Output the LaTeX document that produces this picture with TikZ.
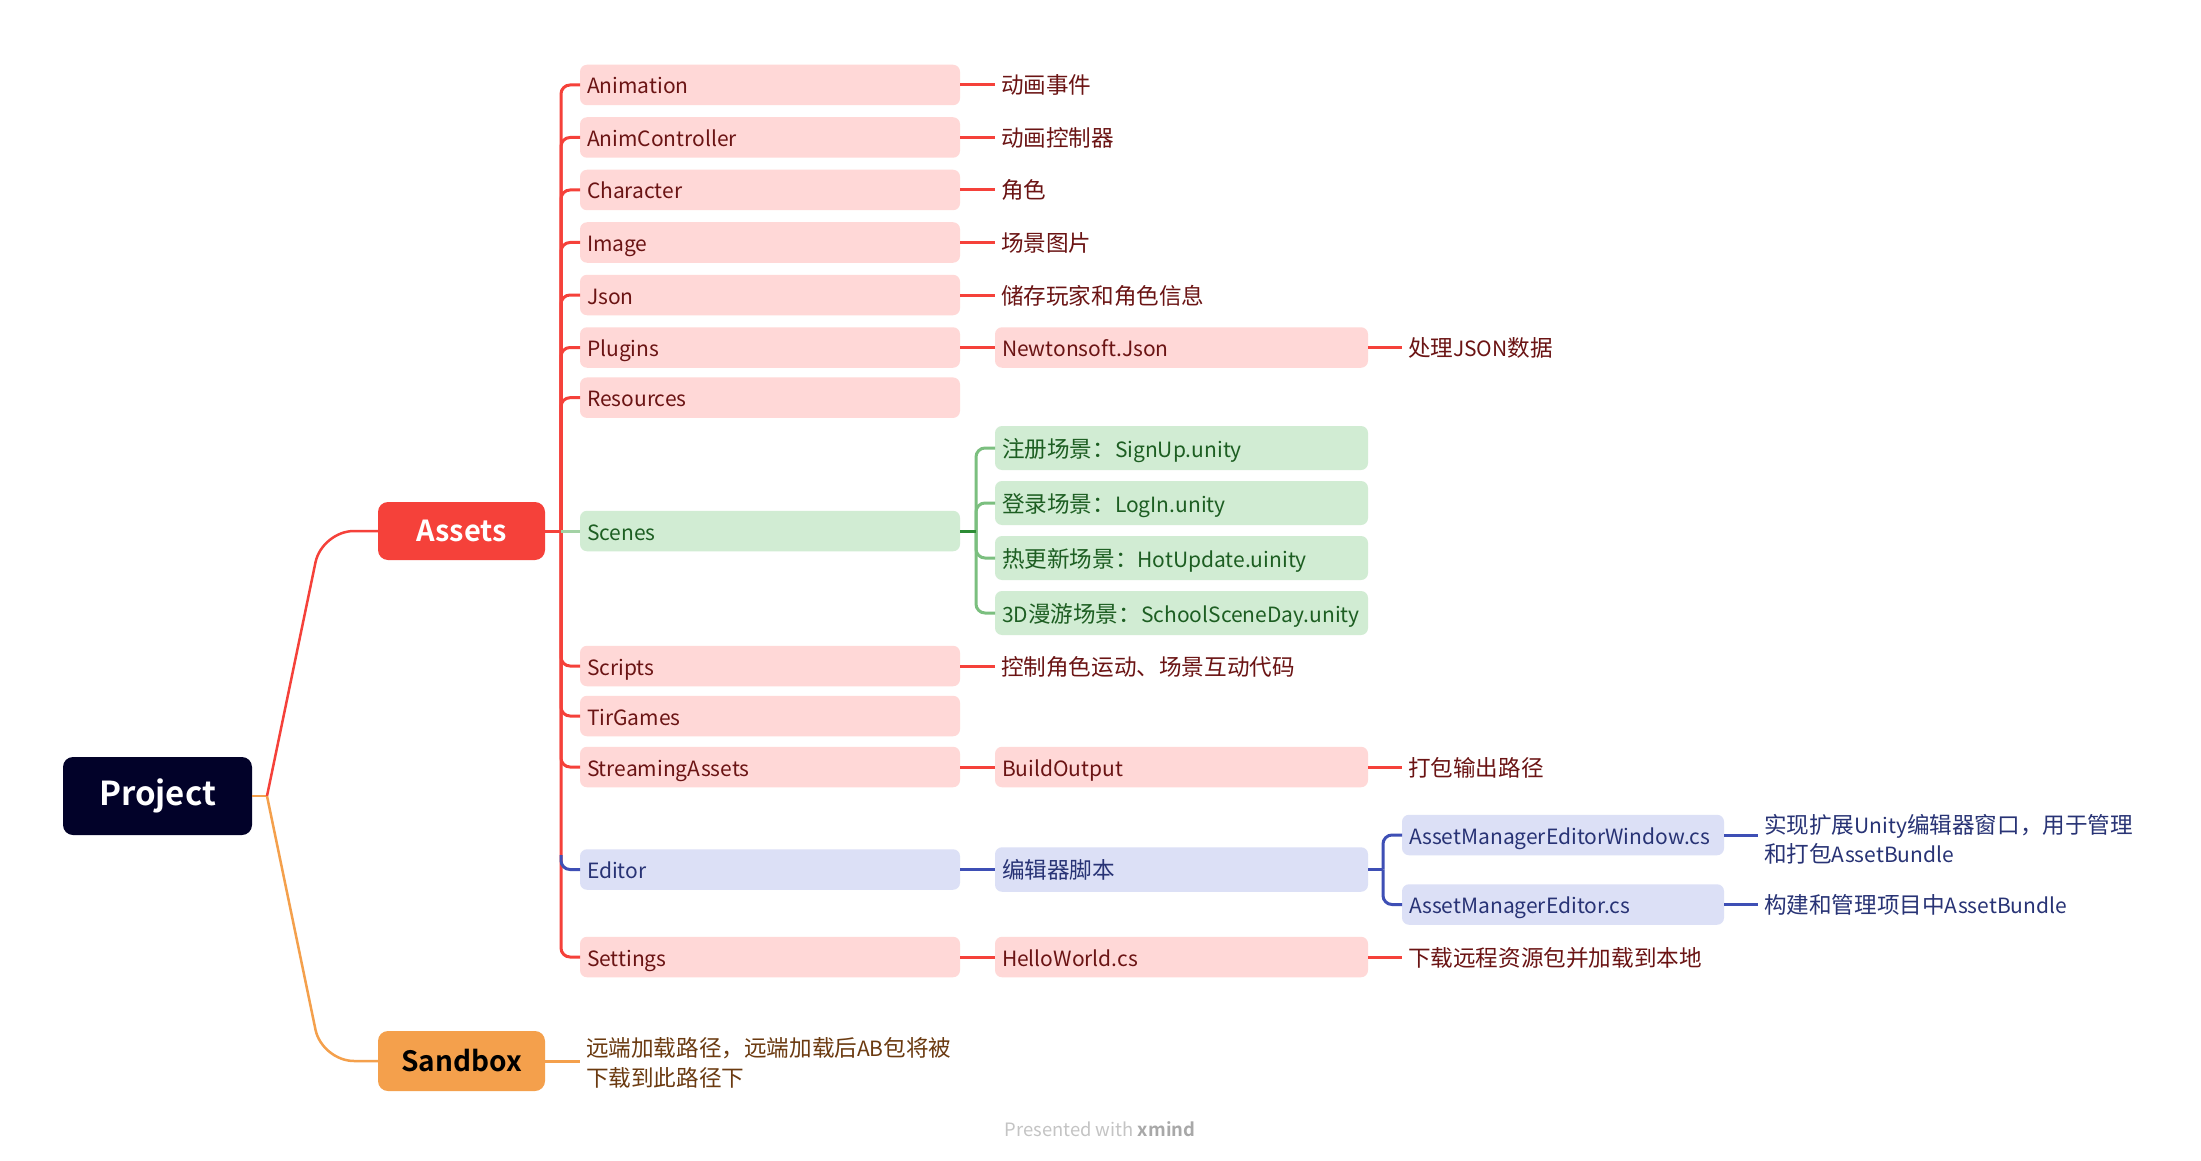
\documentclass[tikz,border=0pt]{standalone}
\usepackage{fontspec}
\setmainfont{Noto Sans CJK SC}[BoldFont={Noto Sans CJK SC Bold}]
\definecolor{redl}{HTML}{F5413A}
\definecolor{pinkf}{HTML}{FFD8D7}
\definecolor{pinkt}{HTML}{6B1414}
\definecolor{greenf}{HTML}{D1ECD3}
\definecolor{greent}{HTML}{1D5E22}
\definecolor{greend}{HTML}{2D8C35}
\definecolor{greenp}{HTML}{7BBF7F}
\definecolor{bluef}{HTML}{DCE0F6}
\definecolor{bluet}{HTML}{283375}
\definecolor{bluel}{HTML}{3E4FB5}
\definecolor{orangel}{HTML}{F4A04C}
\definecolor{oranget}{HTML}{6B3A10}
\definecolor{projf}{HTML}{020229}
\definecolor{footg}{HTML}{C4C4C4}
\definecolor{footd}{HTML}{A8A8A8}
\newcommand{\fs}{\fontsize{21}{29}\selectfont}
\newcommand{\fc}{\fontsize{22.6}{29}\selectfont}
\newcommand{\cj}[1]{{\fontsize{22.6}{29}\selectfont #1}}
\newcommand{\lt}[1]{{\fontsize{21}{29}\selectfont #1}}
\begin{document}
\begin{tikzpicture}[x=1pt,y=-1pt,
  every node/.style={inner sep=0pt, outer sep=0pt},
  boxbase/.style={rounded corners=7pt, anchor=west, minimum height=40.5pt, text height=19.5pt, text depth=1.5pt, inner xsep=7pt, inner ysep=0pt, align=left, font=\fs},
  pbox/.style={boxbase, fill=pinkf, text=pinkt},
  gbox/.style={boxbase, fill=greenf, text=greent},
  bbox/.style={boxbase, fill=bluef, text=bluet},
  colA/.style={text width=366pt},
  colB/.style={text width=359pt},
  colC/.style={text width=308pt},
  lab/.style={anchor=west, inner xsep=6pt, text height=19.5pt, text depth=1.5pt, font=\fc, align=left},
  twolab/.style={text height=51.5pt, text depth=1.5pt},
  rlab/.style={lab, text=pinkt},
  blab/.style={lab, text=bluet},
  topbox/.style={rounded corners=10pt, font=\bfseries, align=center},
  rline/.style={draw=redl, line width=3pt},
  gline/.style={draw=greenp, line width=3pt},
  gdline/.style={draw=greend, line width=3pt},
  bline/.style={draw=bluel, line width=3pt},
  oline/.style={draw=orangel, line width=3pt},
]
\fill[white] (0,0) rectangle (2201,1161);
\useasboundingbox (0,0) rectangle (2201,1161);

% top level
\node[topbox, fill=projf, text=white, minimum width=189pt, minimum height=78pt, font=\fontsize{33}{40}\bfseries] (proj) at (157.5,796) {Project};
\node[topbox, fill=redl, text=white, minimum width=167pt, minimum height=58pt, font=\fontsize{29}{36}\bfseries] (assets) at (461.5,531) {Assets};
\node[topbox, fill=orangel, text=black, minimum width=167pt, minimum height=60pt, font=\fontsize{28}{36}\bfseries] (sandbox) at (461.5,1061) {Sandbox};
\coordinate (pj) at (267,796);
\coordinate (sp) at (561,531);

% column 1
\node[pbox, colA] (anim) at (580,85) {Animation};
\node[pbox, colA] (animc) at (580,137.5) {AnimController};
\node[pbox, colA] (char) at (580,190) {Character};
\node[pbox, colA] (img) at (580,242.5) {Image};
\node[pbox, colA] (json) at (580,295) {Json};
\node[pbox, colA] (plug) at (580,347.5) {Plugins};
\node[pbox, colA] (res) at (580,397.7) {Resources};
\node[gbox, colA] (scenes) at (580,531) {Scenes};
\node[pbox, colA] (scripts) at (580,666) {Scripts};
\node[pbox, colA] (tir) at (580,716) {TirGames};
\node[pbox, colA] (stream) at (580,767) {StreamingAssets};
\node[bbox, colA] (editor) at (580,869.5) {Editor};
\node[pbox, colA] (settings) at (580,957) {Settings};

% column 2
\node[pbox, colB] (newton) at (995,347.5) {Newtonsoft.Json};
\node[gbox, colB, minimum height=44pt] (sc1) at (995,448) {\cj{注册场景：}SignUp.unity};
\node[gbox, colB, minimum height=44pt] (sc2) at (995,503) {\cj{登录场景：}LogIn.unity};
\node[gbox, colB, minimum height=44pt] (sc3) at (995,558) {\cj{热更新场景：}HotUpdate.uinity};
\node[gbox, colB, minimum height=44pt] (sc4) at (995,613) {3D\cj{漫游场景：}SchoolSceneDay.unity};
\node[pbox, colB] (build) at (995,767) {BuildOutput};
\node[bbox, colB, minimum height=44.5pt] (edscript) at (995,869.5) {\cj{编辑器脚本}};
\node[pbox, colB] (hello) at (995,957) {HelloWorld.cs};

% column 3
\node[bbox, colC] (amew) at (1402,835) {AssetManagerEditorWindow.cs};
\node[bbox, colC] (ame) at (1402,904.5) {AssetManagerEditor.cs};

% labels
\node[rlab] (l1) at (995,85) {动画事件};
\node[rlab] (l2) at (995,137.5) {动画控制器};
\node[rlab] (l3) at (995,190) {角色};
\node[rlab] (l4) at (995,242.5) {场景图片};
\node[rlab] (l5) at (995,295) {储存玩家和角色信息};
\node[rlab] (l6) at (1402,347.5) {处理\lt{JSON}数据};
\node[rlab] (l7) at (995,666) {控制角色运动、场景互动代码};
\node[rlab] (l8) at (1402,767) {打包输出路径};
\node[rlab] (l9) at (1402,957) {下载远程资源包并加载到本地};
\node[blab, twolab] (l10) at (1758,837) {实现扩展\lt{Unity}编辑器窗口，用于管理\\和打包\lt{AssetBundle}};
\node[blab] (l11) at (1758,904.5) {构建和管理项目中\lt{AssetBundle}};
\node[lab, twolab, text=oranget, font=\fontsize{22.6}{30}\selectfont] (lsb) at (580,1061) {远端加载路径，远端加载后\lt{AB}包将被\\下载到此路径下};

% project branches
\draw[line width=2.5pt, draw=orangel] (proj.east) -- (pj);
\draw[line width=2.5pt, draw=redl, rounded corners=32pt] (pj) -- (322,531) -- (assets.west);
\draw[line width=2.5pt, draw=orangel, rounded corners=32pt] (pj) -- (322,1061) -- (sandbox.west);
\draw[oline] (sandbox.east) -- (lsb.west);

% spine
\draw[rline] (assets.east) -- (sp);
\foreach \n in {anim,animc,char,img,json,plug,res,scripts,tir,stream,settings}
  \draw[rline, rounded corners=9pt] (sp) |- (\n.west);
\draw[bline, rounded corners=9pt] (561,855) |- (editor.west);
\draw[draw=greenp!70, line width=3pt] (sp) -- (scenes.west);

% column 1 -> labels / column 2
\foreach \a/\b in {anim/l1,animc/l2,char/l3,img/l4,json/l5,scripts/l7,plug/newton,stream/build,settings/hello}
  \draw[rline] (\a.east) -- (\b.west);
\foreach \a/\b in {newton/l6,build/l8,hello/l9}
  \draw[rline] (\a.east) -- (\b.west);

% scenes group
\coordinate (sg) at (976,531);
\foreach \n in {sc1,sc2,sc3,sc4}
  \draw[gline, rounded corners=9pt] (sg) |- (\n.west);
\draw[gdline] (scenes.east) -- (sg);

% editor group
\draw[bline] (editor.east) -- (edscript.west);
\coordinate (eg) at (1383,869.5);
\draw[bline] (edscript.east) -- (eg);
\foreach \n in {amew,ame}
  \draw[bline, rounded corners=9pt] (eg) |- (\n.west);
\draw[bline] (amew.east) -- (l10.west |- amew.east);
\draw[bline] (ame.east) -- (l11.west);

% footer
\node[text=footg, font=\fontsize{18.4}{22}\selectfont] (foot) at (1100,1129) {Presented with \textcolor{footd}{\textbf{xmind}}};
\end{tikzpicture}
\end{document}
